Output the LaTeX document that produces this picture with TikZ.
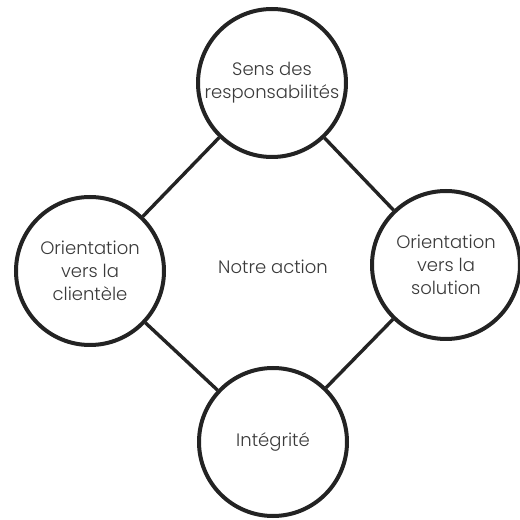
\documentclass[tikz,border=0pt]{standalone}
\usepackage{fontspec}
\setmainfont{Poppins}[UprightFont=* Light]
\usetikzlibrary{positioning}

\definecolor{trait}{HTML}{232323}
\definecolor{texte}{HTML}{3A3A3A}

\begin{document}
\begin{tikzpicture}[x=1pt, y=1pt, valeur/.style={circle, draw=trait, line width=4pt, fill=white, minimum size=148pt, inner sep=0pt, align=center, text=texte}, every node/.style={font=\fontsize{18}{23}\selectfont}]

  \useasboundingbox (0,0) rectangle (520,520);

  \node[text=texte] (action) at (273,253) {Notre action};
  \node[valeur] (sens) at (272,437) {Sens des\\responsabilités};
  \node[valeur] (client) at (90,249) {Orientation\\vers la\\clientèle};
  \node[valeur] (solution) at (446,255) {Orientation\\vers la\\solution};
  \node[valeur] (integrite) at (273,78) {Intégrité};

  \path[draw=trait, line width=3.4pt]
    (sens) -- (client)
    (sens) -- (solution)
    (client) -- (integrite)
    (solution) -- (integrite)
  ;
\end{tikzpicture}
\end{document}
